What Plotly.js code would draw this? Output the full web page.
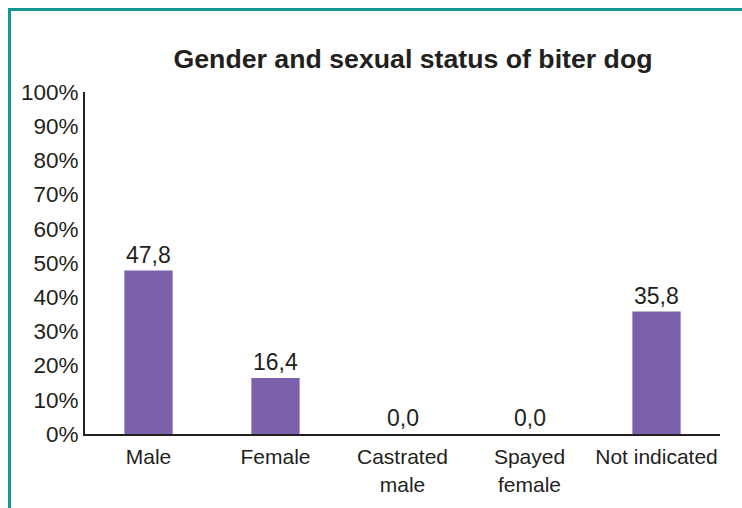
<!DOCTYPE html>
<html>
<head>
<meta charset="utf-8">
<script src="https://cdn.plot.ly/plotly-3.0.1.min.js"></script>
<style>
  html, body { margin: 0; padding: 0; background: #ffffff; }
  #chart { width: 742px; height: 508px; }
</style>
</head>
<body>
<div id="chart"></div>
<script>
// Gender and sexual status of the biting dog, share of cases (%)
const categories = ['Male', 'Female', 'Castrated<br>male', 'Spayed<br>female', 'Not indicated'];
const shares = [47.8, 16.4, 0.0, 0.0, 35.8];
const yTicks = [0, 10, 20, 30, 40, 50, 60, 70, 80, 90, 100];
const yTickLabels = ['0%', '10%', '20%', '30%', '40%', '50%', '60%', '70%', '80%', '90%', '100%'];

const ink = '#231f20';
const barColor = '#7b61a9';
const frameColor = '#17978f';
const fontFamily = '"Liberation Sans", Arial, Helvetica, sans-serif';

const bars = {
  type: 'bar',
  x: categories,
  y: shares,
  marker: { color: barColor, line: { width: 0 } },
  hoverinfo: 'skip'
};

// value labels above each bar, decimal comma
const valueLabels = categories.map((c, i) => ({
  x: c,
  y: shares[i],
  xref: 'x',
  yref: 'y',
  text: shares[i].toFixed(1).replace('.', ','),
  showarrow: false,
  yanchor: 'bottom',
  yshift: 1,
  font: { family: fontFamily, size: 23, color: ink }
}));

// teal frame around the figure (left and top edges visible)
const plotL = 85, plotR = 720, plotT = 92, plotB = 434;
const px = v => (v - plotL) / (plotR - plotL);
const py = v => (plotB - v) / (plotB - plotT);
const frame = [
  { type: 'line', xref: 'paper', yref: 'paper',
    x0: px(9.5), x1: px(9.5), y0: py(8.5), y1: py(520),
    line: { color: frameColor, width: 3 } },
  { type: 'line', xref: 'paper', yref: 'paper',
    x0: px(8), x1: px(760), y0: py(9.5), y1: py(9.5),
    line: { color: frameColor, width: 3 } }
];

const layout = {
  width: 742,
  height: 508,
  margin: { l: plotL, r: 742 - plotR, t: plotT, b: 508 - plotB, pad: 0 },
  paper_bgcolor: '#ffffff',
  plot_bgcolor: '#ffffff',
  showlegend: false,
  bargap: 0.62,
  font: { family: fontFamily, color: ink, size: 21 },
  title: {
    text: '<b>Gender and sexual status of biter dog</b>',
    font: { family: fontFamily, size: 26.7, color: ink },
    xref: 'container', yref: 'container',
    x: 413 / 742, xanchor: 'center',
    y: 1 - 59 / 508, yanchor: 'middle'
  },
  xaxis: {
    type: 'category',
    showline: true,
    linecolor: ink,
    linewidth: 2,
    ticks: '',
    ticklabelstandoff: 3,
    showgrid: false,
    zeroline: false,
    tickfont: { family: fontFamily, size: 21, color: ink },
    fixedrange: true
  },
  yaxis: {
    range: [0, 100],
    tickmode: 'array',
    tickvals: yTicks,
    ticktext: yTickLabels,
    showline: true,
    linecolor: ink,
    linewidth: 2,
    ticks: '',
    ticklabelstandoff: 0,
    showgrid: false,
    zeroline: false,
    tickfont: { family: fontFamily, size: 22.5, color: ink },
    fixedrange: true
  },
  annotations: valueLabels,
  shapes: frame
};

Plotly.newPlot('chart', [bars], layout, { displayModeBar: false, staticPlot: true });
</script>
</body>
</html>
